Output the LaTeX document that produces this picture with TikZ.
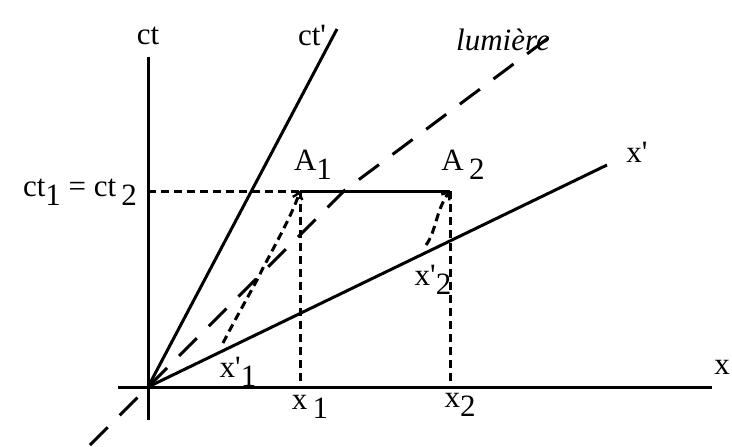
\documentclass[tikz,border=0pt]{standalone}
\usepackage{fontspec}
\setmainfont{Liberation Serif}[Ligatures=TeXOff]
\usetikzlibrary{arrows.meta}
\newcommand{\lowsub}[1]{\raisebox{-0.3em}{#1}}
\begin{document}
\begin{tikzpicture}[x=1pt,y=-1pt,
  ax/.style={line width=3pt},
  dsh/.style={line width=3pt, dash pattern=on 8pt off 5pt},
  light/.style={line width=3pt, dash pattern=on 25pt off 17pt},
  lbl/.style={font=\fontsize{31}{31}\selectfont, inner sep=0pt},
  tip/.style={-{Straight Barb[length=6pt,width=10pt,line width=2.4pt]}}]
\useasboundingbox (0,0) rectangle (732,447);
\coordinate (O) at (148,387);
\coordinate (ctTop) at (148,57);
\coordinate (ctBot) at (148,420);
\coordinate (xL) at (118,387);
\coordinate (xR) at (712,387);
\coordinate (ctpTop) at (337,29);
\coordinate (xpTop) at (607,165);
\coordinate (lumMid) at (345,190);
\coordinate (lumTop) at (555,33);
\coordinate (lumBot) at (90,445);
\coordinate (A1) at (300,191);
\coordinate (A2) at (450,191);
\coordinate (T0) at (148,191);
\coordinate (X1) at (300,387);
\coordinate (X2) at (450,387);
\coordinate (P1) at (223,343);
\coordinate (P2) at (426,245);
% axes
\draw[ax] (ctBot) -- (ctTop);
\draw[ax] (xL) -- (xR);
\draw[ax] (O) -- (ctpTop);
\draw[ax] (O) -- (xpTop);
\draw[light] (lumBot) -- (lumMid) -- (lumTop);
% simultaneity
\draw[ax] (A1) -- (A2);
\draw[dsh] (T0) -- (A1);
\draw[dsh] (A1) -- (X1);
\draw[dsh] (A2) -- (X2);
% curves
\draw[dsh,tip] (P1) .. controls (240,310) and (255,285) .. (262,270) .. controls (275,245) and (292,215) .. (A1);
\draw[dsh,tip] (P2) .. controls (436,232) and (436,210) .. (A2);
% labels
\node[lbl] (Lct) at (148,36) {ct};
\node[lbl] (Lctp) at (312,36) {ct'};
\node[lbl,font=\fontsize{31}{31}\selectfont\itshape] (Llum) at (503,40) {lumière};
\node[lbl] (Lxp) at (637,152) {x'};
\node[lbl] (Lx) at (722,367) {x};
\node[lbl] (LA1) at (313,165) {A\lowsub{1}};
\node[lbl] (LA2) at (463,165) {A\,\lowsub{2}};
\node[lbl] (Lct12) at (80,192) {ct\lowsub{1} = ct\,\lowsub{2}};
\node[lbl] (Lx1) at (310,407) {x\,\lowsub{1}};
\node[lbl] (Lx2) at (460,405) {x\lowsub{2}};
\node[lbl] (Lxp1) at (238,372) {x'\lowsub{1}};
\node[lbl] (Lxp2) at (433,280) {x'\lowsub{2}};
\end{tikzpicture}
\end{document}
